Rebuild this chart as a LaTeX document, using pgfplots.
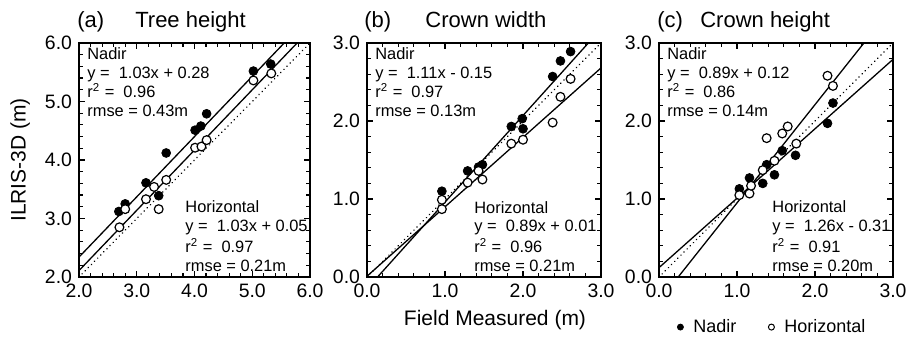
\documentclass[border=0pt]{standalone}
\usepackage{fontspec}
\setmainfont{Liberation Sans}
\usepackage{pgfplots}
\pgfplotsset{compat=1.18}

\pgfplotsset{
 panel/.style={
  scale only axis, width=117pt, height=117pt,
  anchor=south west,
  clip mode=individual,
  axis line style={line width=0.8pt},
  every tick/.style={black, line width=0.6pt},
  major tick length=3pt, minor tick length=1.8pt,
  minor tick num=4,
  /pgf/number format/assume math mode=true,
  tick label style={font=\fontsize{9.7}{10}\selectfont,
    /pgf/number format/fixed, /pgf/number format/fixed zerofill,
    /pgf/number format/precision=1, /pgf/number format/assume math mode=true},
 },
 fitline/.style={black, line width=0.65pt, no marks},
 oneone/.style={black, line width=0.85pt, dash pattern=on 0.01pt off 2.2pt, line cap=round, no marks},
 nadir/.style={only marks, mark=*, mark size=2.2pt, mark options={fill=black, draw=black, solid}},
 horiz/.style={only marks, mark=*, mark size=2.2pt, mark options={fill=white, draw=black, line width=0.6pt, solid}},
}
\tikzset{
 ann/.style={anchor=base west, inner sep=0pt, font=\fontsize{8.2}{9}\selectfont},
 ttl/.style={anchor=base west, inner sep=0pt, font=\fontsize{11}{13}\selectfont},
}

\begin{document}
\begin{tikzpicture}
\useasboundingbox (0,0) rectangle (454.5pt,171pt);

% ---------------- (a) Tree height
\begin{axis}[panel, width=115.5pt, at={(39.5pt,32.5pt)},
  xmin=2, xmax=6, ymin=2, ymax=6,
  xtick={2,3,4,5,6}, ytick={2,3,4,5,6},
  ylabel={ILRIS-3D (m)},
  ylabel style={at={(axis description cs:-0.255,0.5)}, anchor=center, font=\fontsize{10.5}{12}\selectfont},
]
\addplot[oneone] coordinates {(2,2) (6,6)};
\addplot[fitline] coordinates {(2,2.34) (6,6.46)};
\addplot[fitline] coordinates {(2,2.11) (6,6.23)};
\addplot[nadir] table {
2.69 3.12
2.80 3.25
3.16 3.61
3.38 3.39
3.51 4.12
4.01 4.51
4.11 4.58
4.21 4.79
5.02 5.52
5.32 5.64
};
\addplot[horiz] table {
2.70 2.85
2.80 3.16
3.16 3.33
3.30 3.54
3.38 3.16
3.51 3.66
4.01 4.21
4.12 4.23
4.21 4.34
5.02 5.36
5.33 5.48
};
\node[ann] at (rel axis cs:0.0346,0.9274) {Nadir};
\node[ann] at (rel axis cs:0.0346,0.8474) {y =\ \ 1.03x + 0.28};
\node[ann] at (rel axis cs:0.0346,0.768) {r\textsuperscript{2} =\ \ 0.96};
\node[ann] at (rel axis cs:0.0346,0.688) {rmse = 0.43m};
\node[ann] at (rel axis cs:0.459,0.2735) {Horizontal};
\node[ann] at (rel axis cs:0.459,0.1923) {y =\ \ 1.03x + 0.05};
\node[ann] at (rel axis cs:0.459,0.1068) {r\textsuperscript{2} =\ \ 0.97};
\node[ann] at (rel axis cs:0.459,0.0235) {rmse = 0.21m};
\node[ttl] at (rel axis cs:-0.009,1.068) {(a)};
\node[ttl] at (rel axis cs:0.242,1.068) {Tree height};
\end{axis}

% ---------------- (b) Crown width
\begin{axis}[panel, at={(183.5pt,32.5pt)},
  xmin=0, xmax=3, ymin=0, ymax=3,
  xtick={0,1,2,3}, ytick={0,1,2,3},
  xlabel={Field Measured (m)},
  xlabel style={at={(axis description cs:0.547,-0.184)}, anchor=center, font=\fontsize{10.5}{12}\selectfont},
]
\addplot[oneone] coordinates {(0,0) (3,3)};
\addplot[fitline] coordinates {(0,-0.15) (3,3.18)};
\addplot[fitline] coordinates {(0,0.01) (3,2.68)};
\addplot[nadir] table {
0.96 1.10
1.29 1.36
1.43 1.41
1.48 1.44
1.85 1.93
1.99 2.03
2.00 1.90
2.38 2.57
2.48 2.77
2.61 2.89
};
\addplot[horiz] table {
0.96 0.99
0.96 0.87
1.29 1.21
1.43 1.36
1.48 1.25
1.85 1.71
2.00 1.76
2.38 1.98
2.48 2.31
2.61 2.54
};
\node[ann] at (rel axis cs:0.034,0.9274) {Nadir};
\node[ann] at (rel axis cs:0.034,0.8474) {y =\ \ 1.11x - 0.15};
\node[ann] at (rel axis cs:0.034,0.768) {r\textsuperscript{2} =\ \ 0.97};
\node[ann] at (rel axis cs:0.034,0.688) {rmse = 0.13m};
\node[ann] at (rel axis cs:0.457,0.2735) {Horizontal};
\node[ann] at (rel axis cs:0.457,0.1923) {y =\ \ 0.89x + 0.01};
\node[ann] at (rel axis cs:0.457,0.1068) {r\textsuperscript{2} =\ \ 0.96};
\node[ann] at (rel axis cs:0.457,0.0235) {rmse = 0.21m};
\node[ttl] at (rel axis cs:-0.013,1.068) {(b)};
\node[ttl] at (rel axis cs:0.248,1.068) {Crown width};
\end{axis}

% ---------------- (c) Crown height
\begin{axis}[panel, at={(329.5pt,32.5pt)},
  xmin=0, xmax=3, ymin=0, ymax=3,
  xtick={0,1,2,3}, ytick={0,1,2,3},
  legend style={at={(axis description cs:0.489,-0.214)}, anchor=center, draw=none, fill=none,
    legend columns=2, font=\fontsize{9}{10}\selectfont,
    /tikz/every odd column/.append style={column sep=3pt},
    /tikz/every even column/.append style={column sep=14pt}},
  legend cell align=left,
  legend image code/.code={\draw[#1] plot coordinates {(0pt,0pt)};},
]
\addplot[oneone, forget plot] coordinates {(0,0) (3,3)};
\addplot[fitline, forget plot] coordinates {(0,0.12) (3,2.79)};
\addplot[fitline, forget plot] coordinates {(0,-0.31) (3,3.47)};
\addplot[nadir, forget plot] table {
1.03 1.13
1.16 1.27
1.33 1.20
1.38 1.44
1.48 1.31
1.58 1.62
1.75 1.56
2.16 1.97
2.23 2.23
};
\addplot[horiz, forget plot] table {
1.03 1.05
1.16 1.07
1.18 1.17
1.33 1.37
1.38 1.78
1.48 1.49
1.58 1.84
1.65 1.93
1.76 1.71
2.16 2.58
2.23 2.45
};
\addlegendimage{only marks, mark=*, mark size=1.5pt, mark options={fill=black, draw=black}}
\addlegendentry{Nadir}
\addlegendimage{only marks, mark=*, mark size=1.5pt, mark options={fill=white, draw=black, line width=0.5pt}}
\addlegendentry{Horizontal}
\node[ann] at (rel axis cs:0.034,0.9274) {Nadir};
\node[ann] at (rel axis cs:0.034,0.8474) {y =\ \ 0.89x + 0.12};
\node[ann] at (rel axis cs:0.034,0.768) {r\textsuperscript{2} =\ \ 0.86};
\node[ann] at (rel axis cs:0.034,0.688) {rmse = 0.14m};
\node[ann] at (rel axis cs:0.483,0.2735) {Horizontal};
\node[ann] at (rel axis cs:0.483,0.1923) {y =\ \ 1.26x - 0.31};
\node[ann] at (rel axis cs:0.483,0.1068) {r\textsuperscript{2} =\ \ 0.91};
\node[ann] at (rel axis cs:0.483,0.0235) {rmse = 0.20m};
\node[ttl] at (rel axis cs:-0.0085,1.068) {(c)};
\node[ttl] at (rel axis cs:0.175,1.068) {Crown height};
\end{axis}
\end{tikzpicture}
\end{document}
